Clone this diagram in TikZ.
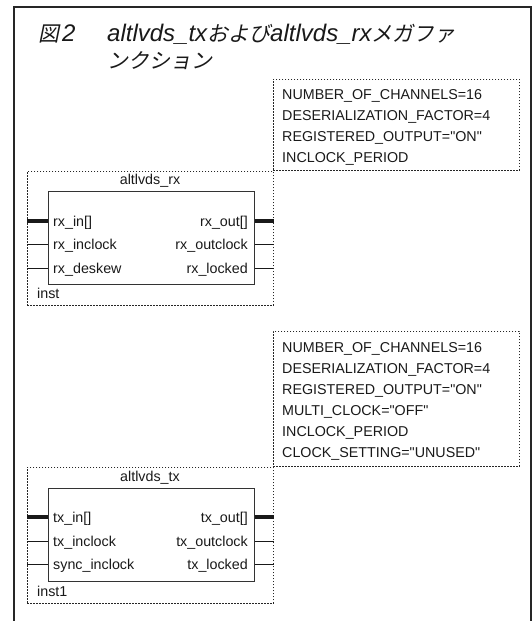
\documentclass[tikz,border=0pt]{standalone}
\usepackage{fontspec}
\setmainfont{Liberation Sans}
\newfontfamily\jpfont[FakeSlant=0.2]{Noto Sans CJK JP}
\newcommand\jpk[1]{{\jpfont\fontsize{21}{27}\selectfont #1}}
\begin{document}
\begin{tikzpicture}[x=1pt,y=-1pt,
  lbl/.style={inner sep=0pt, font=\fontsize{14.3}{17}\selectfont, text=black!90},
  dotbox/.style={draw=black!85, dash pattern=on 1.2pt off 1.8pt, line width=0.9pt, inner sep=0pt, anchor=north west},
  blk/.style={draw=black!80, line width=1pt, inner sep=0pt, anchor=north west},
  bus/.style={line width=3.5pt, black!90},
  wire/.style={line width=1pt, black!90},
  ttl/.style={inner sep=0pt, anchor=base west, font=\fontsize{24}{27}\selectfont\itshape, text=black!90}]
\useasboundingbox (0,0) rectangle (532,621);
% outer frame
\draw[line width=1.4pt, black!85] (14,621) -- (14,7) -- (531,7) -- (531,621);
% title
\node[ttl] (t1) at (38,41) {\jpk{図}\hspace{3pt}2};
\node[ttl] (t2) at (107,41) {altlvds\_tx\jpk{および}altlvds\_rx\jpk{メガファ}};
\node[ttl] (t3) at (107,68) {\jpk{ンクション}};

% ---------- parameter box 1 ----------
\node[dotbox, minimum width=246pt, minimum height=91pt] (prm1) at (273,79) {};
\node[lbl, anchor=base west] (p11) at (282,99) {NUMBER\_OF\_CHANNELS=16};
\node[lbl, anchor=base west] (p12) at (282,120) {DESERIALIZATION\_FACTOR=4};
\node[lbl, anchor=base west] (p13) at (282,141) {REGISTERED\_OUTPUT=\textquotedbl ON\textquotedbl};
\node[lbl, anchor=base west] (p14) at (282,162) {INCLOCK\_PERIOD};

% ---------- altlvds_rx ----------
\node[dotbox, minimum width=246pt, minimum height=134pt] (rxo) at (27,171) {};
\node[blk, minimum width=206pt, minimum height=93pt] (rxb) at (48,191) {};
\node[lbl, anchor=base] (rxname) at (150,184) {altlvds\_rx};
\coordinate (ry1) at (0,221);
\coordinate (ry2) at (0,244);
\coordinate (ry3) at (0,268);
\draw[bus]  (rxo.west |- ry1) -- (rxb.west |- ry1);
\draw[wire] (rxo.west |- ry2) -- (rxb.west |- ry2);
\draw[wire] (rxo.west |- ry3) -- (rxb.west |- ry3);
\draw[bus]  (rxb.east |- ry1) -- (rxo.east |- ry1);
\draw[wire] (rxb.east |- ry2) -- (rxo.east |- ry2);
\draw[wire] (rxb.east |- ry3) -- (rxo.east |- ry3);
\node[lbl, anchor=base west] (rxin) at (53,226) {rx\_in[]};
\node[lbl, anchor=base west] (rxinclk) at (53,249) {rx\_inclock};
\node[lbl, anchor=base west] (rxdesk) at (53,273) {rx\_deskew};
\node[lbl, anchor=base east] (rxout) at (248,226) {rx\_out[]};
\node[lbl, anchor=base east] (rxoutclk) at (248,249) {rx\_outclock};
\node[lbl, anchor=base east] (rxlock) at (248,273) {rx\_locked};
\node[lbl, anchor=base west] (rxinst) at (37,298) {inst};

% ---------- parameter box 2 ----------
\node[dotbox, minimum width=246pt, minimum height=135pt] (prm2) at (273,331) {};
\node[lbl, anchor=base west] (p21) at (282,352) {NUMBER\_OF\_CHANNELS=16};
\node[lbl, anchor=base west] (p22) at (282,373) {DESERIALIZATION\_FACTOR=4};
\node[lbl, anchor=base west] (p23) at (282,394) {REGISTERED\_OUTPUT=\textquotedbl ON\textquotedbl};
\node[lbl, anchor=base west] (p24) at (282,415) {MULTI\_CLOCK=\textquotedbl OFF\textquotedbl};
\node[lbl, anchor=base west] (p25) at (282,436) {INCLOCK\_PERIOD};
\node[lbl, anchor=base west] (p26) at (282,457) {CLOCK\_SETTING=\textquotedbl UNUSED\textquotedbl};

% ---------- altlvds_tx ----------
\node[dotbox, minimum width=246pt, minimum height=136pt] (txo) at (27,467) {};
\node[blk, minimum width=206pt, minimum height=93pt] (txb) at (48,488) {};
\node[lbl, anchor=base] (txname) at (150,481) {altlvds\_tx};
\coordinate (ty1) at (0,517);
\coordinate (ty2) at (0,541);
\coordinate (ty3) at (0,564);
\draw[bus]  (txo.west |- ty1) -- (txb.west |- ty1);
\draw[wire] (txo.west |- ty2) -- (txb.west |- ty2);
\draw[wire] (txo.west |- ty3) -- (txb.west |- ty3);
\draw[bus]  (txb.east |- ty1) -- (txo.east |- ty1);
\draw[wire] (txb.east |- ty2) -- (txo.east |- ty2);
\draw[wire] (txb.east |- ty3) -- (txo.east |- ty3);
\node[lbl, anchor=base west] (txin) at (53,522) {tx\_in[]};
\node[lbl, anchor=base west] (txinclk) at (53,546) {tx\_inclock};
\node[lbl, anchor=base west] (txsync) at (53,569) {sync\_inclock};
\node[lbl, anchor=base east] (txout) at (248,522) {tx\_out[]};
\node[lbl, anchor=base east] (txoutclk) at (248,546) {tx\_outclock};
\node[lbl, anchor=base east] (txlock) at (248,569) {tx\_locked};
\node[lbl, anchor=base west] (txinst) at (37,596) {inst1};
\end{tikzpicture}
\end{document}
